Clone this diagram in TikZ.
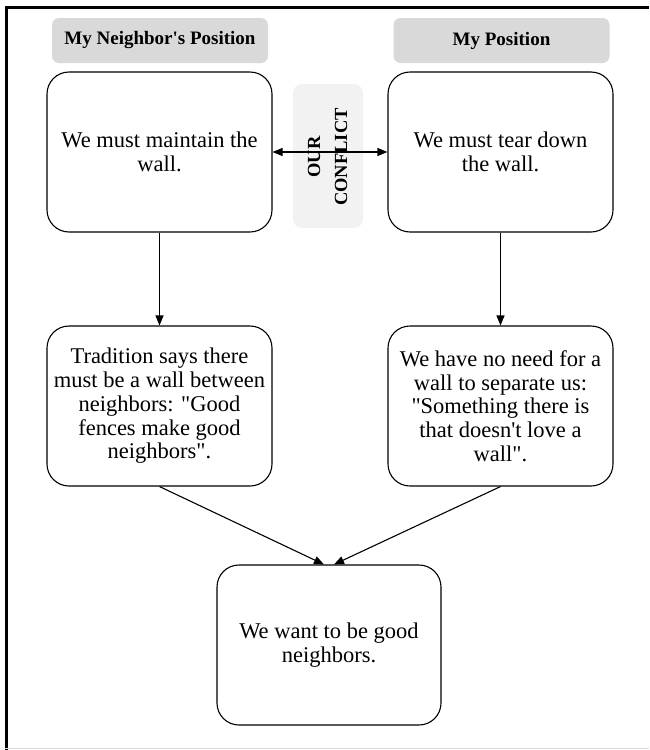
\documentclass[tikz,border=0pt]{standalone}
\usepackage{fontspec}
\setmainfont{Liberation Serif}[Ligatures=TeXOff]
\usetikzlibrary{arrows.meta}
\definecolor{hdrgray}{HTML}{D9D9D9}
\definecolor{conflictgray}{HTML}{F2F2F2}
\begin{document}
\begin{tikzpicture}[x=1pt,y=-1pt,
  hdr/.style={fill=hdrgray,draw=none,rounded corners=7pt,minimum width=216pt,minimum height=45pt,inner sep=0pt,
    font=\fontsize{19}{22}\selectfont\bfseries},
  card/.style={draw=black,line width=1.1pt,fill=white,rounded corners=22pt,minimum width=225pt,minimum height=160pt,
    inner sep=0pt,align=center,font=\fontsize{22.5}{23.7}\selectfont},
  conflictbox/.style={fill=conflictgray,draw=none,rounded corners=9pt,minimum width=70pt,minimum height=144pt,inner sep=0pt},
  link/.style={draw=black,line width=1.1pt,-{Triangle[length=10pt,width=8pt]}},
  dlink/.style={draw=black,line width=1.1pt,{Triangle[length=10pt,width=8pt]}-{Triangle[length=10pt,width=8pt]}}
]
\useasboundingbox (0,0) rectangle (649,750);
\fill[white] (0,0) rectangle (649,750);
% frame
\draw[line width=3pt,black] (6.5,750) -- (6.5,7.5) -- (649,7.5);
\draw[line width=1pt,black!15] (5,748.5) -- (649,748.5);
% headers
\node[hdr] (h1) at (160,40.5) {My Neighbor's Position};
\node[hdr] (h2) at (501.5,40.5) {My Position};
% conflict box
\node[conflictbox] (cf) at (328,156) {};
\node[rotate=90,align=center,font=\fontsize{18.5}{27}\selectfont\bfseries] (cft) at (327.5,157) {OUR\\CONFLICT};
% cards
\node[card] (b1) at (159.5,152) {We must maintain the\\wall.};
\node[card] (b2) at (500.5,152) {We must tear down\\the wall.};
\node[card] (b3) at (159.5,406) {Tradition says there\\must be a wall between\\neighbors: "Good\\fences make good\\neighbors".};
\node[card] (b4) at (500.5,406) {We have no need for a\\wall to separate us:\\"Something there is\\that doesn't love a\\wall".};
\node[card,minimum width=224pt] (b5) at (329,645) {We want to be good\\neighbors.};
% connectors
\draw[dlink] (b1.east) -- (b2.west);
\draw[link] (b1.south) -- (b3.north);
\draw[link] (b2.south) -- (b4.north);
\draw[link] (b3.south) -- ([xshift=-5pt]b5.north);
\draw[link] (b4.south) -- ([xshift=5pt]b5.north);
\end{tikzpicture}
\end{document}
